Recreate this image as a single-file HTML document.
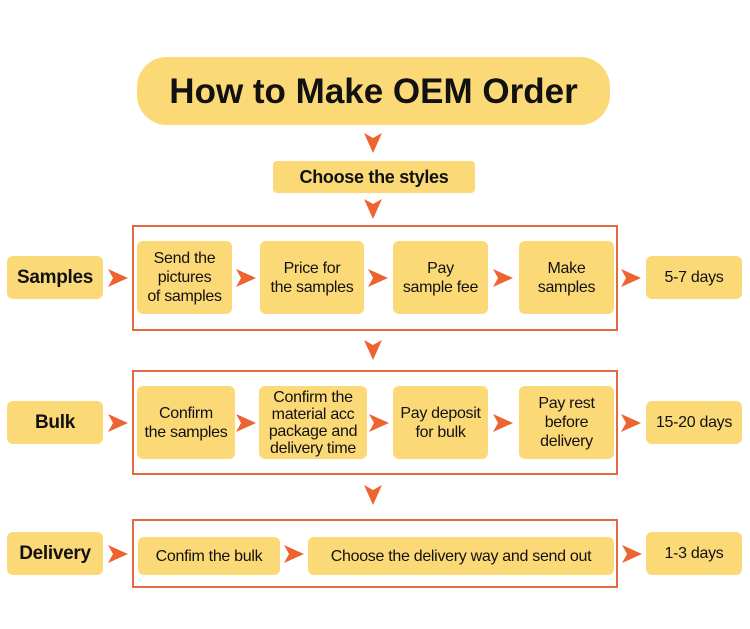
<!DOCTYPE html>
<html><head><meta charset="utf-8"><style>
body{margin:0;width:750px;height:629px;background:#fff;position:relative;overflow:hidden;font-family:"Liberation Sans",sans-serif;color:#111}
.b{position:absolute;background:#fcd977;border-radius:6px;display:flex;align-items:center;justify-content:center;text-align:center;font-size:16px;line-height:19px;letter-spacing:-0.3px}
.f{position:absolute;border:2px solid #e26a3e;box-sizing:border-box}
.bold{font-weight:bold;font-size:19px}
svg{position:absolute;left:0;top:0}
</style></head><body>
<div class="b" style="left:137px;top:57px;width:473px;height:68px;border-radius:30px;font-size:35px;font-weight:bold;letter-spacing:0">How to Make OEM Order</div>
<div class="b bold" style="left:273px;top:161px;width:202px;height:32px;font-size:18px;border-radius:4px">Choose the styles</div>

<div class="f" style="left:132px;top:225px;width:486px;height:106px"></div>
<div class="f" style="left:132px;top:370px;width:486px;height:105px"></div>
<div class="f" style="left:132px;top:519px;width:486px;height:69px"></div>

<div class="b bold" style="left:7px;top:256px;width:96px;height:43px">Samples</div>
<div class="b bold" style="left:7px;top:401px;width:96px;height:43px">Bulk</div>
<div class="b bold" style="left:7px;top:532px;width:96px;height:43px">Delivery</div>

<div class="b" style="left:137px;top:241px;width:95px;height:73px">Send the<br>pictures<br>of samples</div>
<div class="b" style="left:260px;top:241px;width:104px;height:73px">Price for<br>the samples</div>
<div class="b" style="left:393px;top:241px;width:95px;height:73px">Pay<br>sample fee</div>
<div class="b" style="left:519px;top:241px;width:95px;height:73px">Make<br>samples</div>
<div class="b" style="left:646px;top:256px;width:96px;height:43px">5-7 days</div>

<div class="b" style="left:137px;top:386px;width:98px;height:73px">Confirm<br>the samples</div>
<div class="b" style="left:259px;top:386px;width:108px;height:73px;line-height:17px">Confirm the<br>material acc<br>package and<br>delivery time</div>
<div class="b" style="left:393px;top:386px;width:95px;height:73px">Pay deposit<br>for bulk</div>
<div class="b" style="left:519px;top:386px;width:95px;height:73px">Pay rest<br>before<br>delivery</div>
<div class="b" style="left:646px;top:401px;width:96px;height:43px">15-20 days</div>

<div class="b" style="left:138px;top:537px;width:142px;height:38px">Confim the bulk</div>
<div class="b" style="left:308px;top:537px;width:306px;height:38px">Choose the delivery way and send out</div>
<div class="b" style="left:646px;top:532px;width:96px;height:43px">1-3 days</div>

<svg width="750" height="629">
<defs>
<polygon id="r" points="0,-9 20,0 0,9 5,0" fill="#ec6431"/>
<polygon id="d" points="-9,0 0,20 9,0 0,5" fill="#ec6431"/>
</defs>
<use href="#d" x="373" y="133"/>
<use href="#d" x="373" y="199"/>
<use href="#d" x="373" y="340"/>
<use href="#d" x="373" y="485"/>
<use href="#r" x="108" y="278"/>
<use href="#r" x="236" y="278"/>
<use href="#r" x="368" y="278"/>
<use href="#r" x="493" y="278"/>
<use href="#r" x="621" y="278"/>
<use href="#r" x="108" y="423"/>
<use href="#r" x="236" y="423"/>
<use href="#r" x="369" y="423"/>
<use href="#r" x="493" y="423"/>
<use href="#r" x="621" y="423"/>
<use href="#r" x="108" y="554"/>
<use href="#r" x="284" y="554"/>
<use href="#r" x="622" y="554"/>
</svg>
</body></html>
